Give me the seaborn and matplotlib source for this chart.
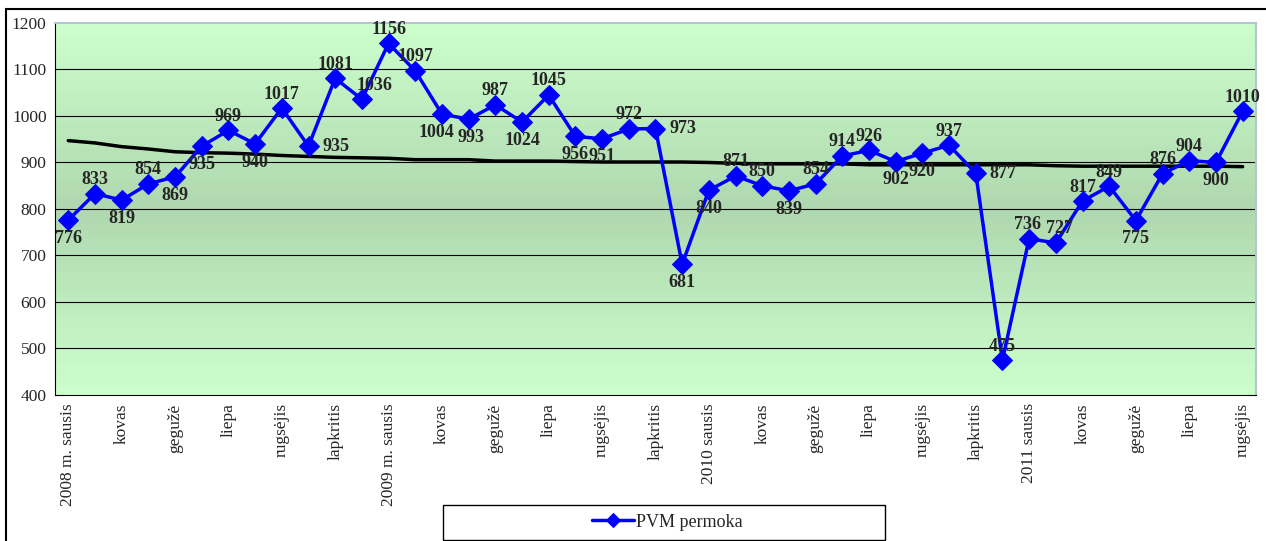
import numpy as np
import pandas as pd
import matplotlib
matplotlib.use("Agg")
import matplotlib.pyplot as plt
import seaborn as sns
from matplotlib.patches import Rectangle

# duomenys
months = ["2008 m. sausis", "vasaris", "kovas", "balandis", "gegužė", "birželis",
          "liepa", "rugpjūtis", "rugsėjis", "spalis", "lapkritis", "gruodis",
          "2009 m. sausis", "vasaris", "kovas", "balandis", "gegužė", "birželis",
          "liepa", "rugpjūtis", "rugsėjis", "spalis", "lapkritis", "gruodis",
          "2010 sausis", "vasaris", "kovas", "balandis", "gegužė", "birželis",
          "liepa", "rugpjūtis", "rugsėjis", "spalis", "lapkritis", "gruodis",
          "2011 sausis", "vasaris", "kovas", "balandis", "gegužė", "birželis",
          "liepa", "rugpjūtis", "rugsėjis"]
pvm = [776, 833, 819, 854, 869, 935, 969, 940, 1017, 935, 1081, 1036,
       1156, 1097, 1004, 993, 1024, 987, 1045, 956, 951, 972, 973, 681,
       840, 871, 850, 839, 854, 914, 926, 902, 920, 937, 877, 475,
       736, 727, 817, 849, 775, 876, 904, 900, 1010]
trend = [947, 942, 934, 929, 923, 921, 920, 918, 915, 913, 911, 910,
         909, 906, 906, 906, 903, 903, 903, 902, 901, 901, 901, 901,
         900, 898, 897, 897, 897, 897, 895, 895, 895, 895, 895, 895,
         895, 893, 892, 892, 892, 892, 892, 892, 891]
# etiketes kaip paveiksle (16 ir 17 sukeistos)
point_labels = ["776", "833", "819", "854", "869", "935", "969", "940", "1017", "935", "1081", "1036",
                "1156", "1097", "1004", "993", "987", "1024", "1045", "956", "951", "972", "973", "681",
                "840", "871", "850", "839", "854", "914", "926", "902", "920", "937", "877", "475",
                "736", "727", "817", "849", "775", "876", "904", "900", "1010"]
label_pos = ["b", "a", "b", "a", "b", "b", "a", "b", "a", "r", "a", "a",
             "a", "a", "b", "b", "a", "b", "a", "b", "b", "a", "r", "b",
             "b", "a", "a", "b", "a", "a", "a", "b", "b", "a", "r", "a",
             "a", "a", "a", "a", "b", "a", "a", "b", "a"]
label_dx = {11: 9, 14: -4, 15: 2, 36: -1, 37: 3}

df = pd.DataFrame({"x": np.arange(len(months)), "pvm": pvm, "trend": trend})

sns.set_style("white")
plt.rcParams["font.family"] = ["Liberation Serif", "DejaVu Serif"]

fig = plt.figure(figsize=(12.66, 5.41), dpi=100)
ax = fig.add_axes([0.0434, 0.270, 0.9487, 0.6875])

# gradientinis fonas
grad = np.concatenate([np.linspace(0, 1, 50), np.linspace(1, 0, 50)])[:, None]
cmap = matplotlib.colors.LinearSegmentedColormap.from_list("g", ["#CCFFCC", "#B0D8B0"])
ax.imshow(grad, aspect="auto", cmap=cmap, extent=[-0.5, 44.5, 400, 1200], zorder=0)

for yv in range(500, 1200, 100):
    ax.axhline(yv, color="black", lw=0.8, zorder=1)

sns.lineplot(data=df, x="x", y="trend", color="black", lw=2.5, ax=ax, legend=False, zorder=2)
sns.lineplot(data=df, x="x", y="pvm", color="#0000FF", lw=2.5, marker="D", markersize=10,
             markeredgecolor="#0000FF", ax=ax, label="PVM permoka", zorder=3)

for i, (v, t, p) in enumerate(zip(pvm, point_labels, label_pos)):
    dx = label_dx.get(i, 0)
    if p == "a":
        off, ha, va = (dx, 4), "center", "bottom"
    elif p == "b":
        off, ha, va = (dx, -7), "center", "top"
    else:
        off, ha, va = (10 + dx, 0), "left", "center"
    ax.annotate(t, (i, v), xytext=off, textcoords="offset points", ha=ha, va=va,
                fontsize=13, fontweight="bold", zorder=4)

ax.set_xlim(-0.5, 44.5)
ax.set_ylim(400, 1200)
ax.set_yticks(range(400, 1201, 100))
ax.set_yticklabels([str(v) for v in range(400, 1201, 100)], fontsize=12.5)
ax.set_xticks(np.arange(0, 45, 2))
ax.set_xticklabels(months[::2], rotation=90, fontsize=12.5)
ax.set_xticks(np.arange(-0.5, 45, 1), minor=True)
ax.tick_params(axis="x", which="major", length=0, pad=6)
ax.tick_params(axis="x", which="minor", length=4, width=0.8, direction="out", color="black")
ax.tick_params(axis="y", length=4, width=0.8, direction="out", color="black", pad=2)
ax.set_xlabel("")
ax.set_ylabel("")
for s in ["left", "bottom"]:
    ax.spines[s].set_color("black")
    ax.spines[s].set_linewidth(0.8)
for s in ["top", "right"]:
    ax.spines[s].set_color("#B4C4D0")
    ax.spines[s].set_linewidth(1.5)

ax.legend(loc="center", bbox_to_anchor=(0.527, 0.035), bbox_transform=fig.transFigure,
          frameon=False, fontsize=13, handlelength=2.3, handletextpad=0.1, markerscale=0.75)

# remeliai
fig.patches.append(Rectangle((443 / 1266, 1 / 541), 442 / 1266, 35 / 541, fill=False,
                             edgecolor="black", lw=1, transform=fig.transFigure, figure=fig))
fig.patches.append(Rectangle((6 / 1266, -0.05), 1.1, 0.05 + 532 / 541, fill=False,
                             edgecolor="black", lw=1.5, transform=fig.transFigure, figure=fig))

fig.savefig("out.png", dpi=100)
